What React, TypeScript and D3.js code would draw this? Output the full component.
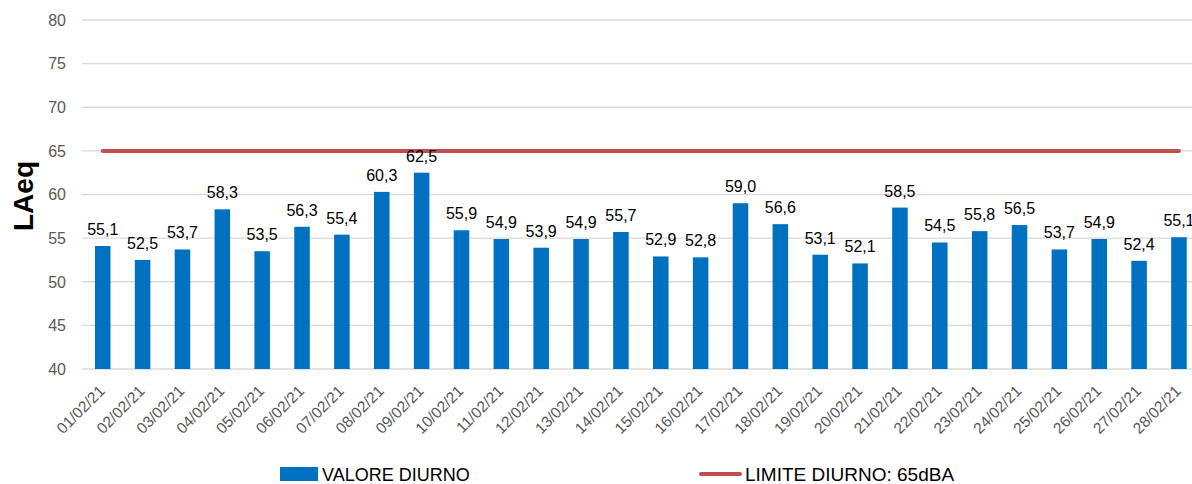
import React from 'react';
import * as d3 from 'd3';

const days = [
  '01/02/21', '02/02/21', '03/02/21', '04/02/21', '05/02/21', '06/02/21', '07/02/21',
  '08/02/21', '09/02/21', '10/02/21', '11/02/21', '12/02/21', '13/02/21', '14/02/21',
  '15/02/21', '16/02/21', '17/02/21', '18/02/21', '19/02/21', '20/02/21', '21/02/21',
  '22/02/21', '23/02/21', '24/02/21', '25/02/21', '26/02/21', '27/02/21', '28/02/21',
];

// bar heights as drawn
const values = [
  54.1, 52.5, 53.7, 58.3, 53.5, 56.3, 55.4, 60.3, 62.5, 55.9, 54.9, 53.9, 54.9, 55.7,
  52.9, 52.8, 59.0, 56.6, 53.1, 52.1, 58.5, 54.5, 55.8, 56.5, 53.7, 54.9, 52.4, 55.1,
];

// data labels as printed
const labels = [
  '55,1', '52,5', '53,7', '58,3', '53,5', '56,3', '55,4', '60,3', '62,5', '55,9', '54,9', '53,9', '54,9', '55,7',
  '52,9', '52,8', '59,0', '56,6', '53,1', '52,1', '58,5', '54,5', '55,8', '56,5', '53,7', '54,9', '52,4', '55,1',
];

const limit = 65;
const yTicks = [40, 45, 50, 55, 60, 65, 70, 75, 80];

const W = 1192;
const H = 484;
const font = '"Liberation Sans", Arial, sans-serif';

export default function App() {
  const x = d3.scaleBand<string>()
    .domain(days)
    .range([82.8, 82.8 + 28 * 39.86])
    .paddingInner(0.61)
    .paddingOuter(0.305);

  const y = d3.scaleLinear()
    .domain([40, 80])
    .range([369, 20]);

  const cx = (d: string) => (x(d) as number) + x.bandwidth() / 2;

  const limitLine = d3.line<string>()
    .x(d => cx(d))
    .y(() => y(limit));

  return (
    <svg width={W} height={H} style={{ position: 'absolute', left: 0, top: 0 }} fontFamily={font}>
      <rect width={W} height={H} fill="#fff" />

      {yTicks.map(t => (
        <g key={t}>
          <line x1={82} x2={W} y1={y(t)} y2={y(t)} stroke="#d9d9d9" strokeWidth={1.3} />
          <text x={66} y={y(t)} dy="0.36em" textAnchor="end" fontSize={16} fill="#595959">{t}</text>
        </g>
      ))}

      {days.map((d, i) => (
        <rect key={d} x={x(d)} y={y(values[i])} width={x.bandwidth()} height={y(40) - y(values[i])} fill="#0070C0" />
      ))}

      <path d={limitLine([days[0], days[days.length - 1]]) ?? ''} stroke="#C0504D" strokeWidth={4} fill="none" strokeLinecap="round" />

      {days.map((d, i) => (
        <text key={d} x={cx(d)} y={y(values[i]) - 11} textAnchor="middle" fontSize={16} fill="#000">{labels[i]}</text>
      ))}

      {days.map(d => (
        <text key={d} transform={`translate(${cx(d) + 3},392) rotate(-45)`} textAnchor="end" fontSize={15.5} fill="#595959">{d}</text>
      ))}

      <text transform="translate(33,196) rotate(-90)" textAnchor="middle" fontSize={28} fontWeight="bold" fill="#000">LAeq</text>

      <rect x={280} y={467} width={38} height={14} fill="#0070C0" />
      <text x={322} y={481} fontSize={18} fill="#000">VALORE DIURNO</text>
      <line x1={701} x2={740} y1={474} y2={474} stroke="#C0504D" strokeWidth={4} strokeLinecap="round" />
      <text x={745} y={481} fontSize={19} fill="#000">LIMITE DIURNO: 65dBA</text>
    </svg>
  );
}
